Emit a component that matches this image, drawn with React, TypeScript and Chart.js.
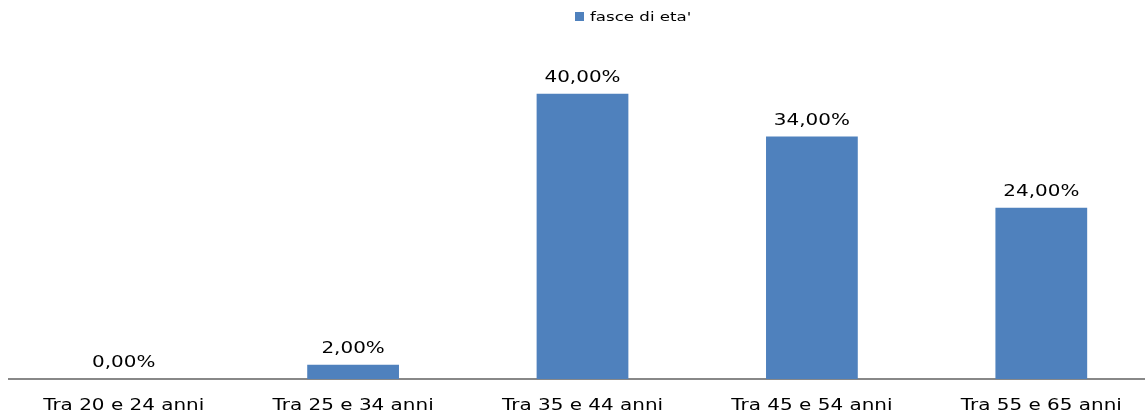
import React, { useEffect, useRef } from "react";
import { Chart, registerables } from "chart.js";

Chart.register(...registerables);

const categories = [
  "Tra 20 e 24 anni",
  "Tra 25 e 34 anni",
  "Tra 35 e 44 anni",
  "Tra 45 e 54 anni",
  "Tra 55 e 65 anni",
];
const seriesLabel = "fasce di eta'";
const values = [0, 2, 40, 34, 24];

const FONT = "'DejaVu Sans', Verdana, sans-serif";
const BAR_COLOR = "#4f81bd";
const TEXT_STRETCH = 1.33; // wide, horizontally stretched text

const formatPct = (v: number) => v.toFixed(2).replace(".", ",") + "%";

function drawWideText(
  ctx: CanvasRenderingContext2D,
  text: string,
  x: number,
  y: number,
  align: CanvasTextAlign
) {
  ctx.save();
  ctx.translate(x, y);
  ctx.scale(TEXT_STRETCH, 1);
  ctx.textAlign = align;
  ctx.textBaseline = "alphabetic";
  ctx.fillText(text, 0, 0);
  ctx.restore();
}

// Category names under the axis line
const categoryLabels = {
  id: "categoryLabels",
  afterDraw(chart: any) {
    const ctx = chart.ctx;
    const xScale = chart.scales.x;
    ctx.save();
    ctx.font = `15px ${FONT}`;
    ctx.fillStyle = "#000";
    categories.forEach((name, i) => {
      drawWideText(ctx, name, xScale.getPixelForTick(i), chart.chartArea.bottom + 31, "center");
    });
    ctx.restore();
  },
};

// Percentage labels above each bar
const valueLabels = {
  id: "valueLabels",
  afterDatasetsDraw(chart: any) {
    const ctx = chart.ctx;
    const meta = chart.getDatasetMeta(0);
    ctx.save();
    ctx.font = `15px ${FONT}`;
    ctx.fillStyle = "#000";
    meta.data.forEach((bar: any, i: number) => {
      drawWideText(ctx, formatPct(values[i]), bar.x, bar.y - 12, "center");
    });
    ctx.restore();
  },
};

// Single-series legend: colour square and series name
const seriesLegend = {
  id: "seriesLegend",
  afterDraw(chart: any) {
    const ctx = chart.ctx;
    const ds = chart.data.datasets[0];
    ctx.save();
    ctx.fillStyle = ds.backgroundColor;
    ctx.fillRect(575, 12, 9, 9);
    ctx.font = `12.5px ${FONT}`;
    ctx.fillStyle = "#000";
    drawWideText(ctx, ds.label, 590, 21, "left");
    ctx.restore();
  },
};

export default function App() {
  const ref = useRef<HTMLCanvasElement>(null);

  useEffect(() => {
    if (!ref.current) return;
    const chart = new Chart(ref.current, {
      type: "bar",
      data: {
        labels: categories,
        datasets: [
          {
            label: seriesLabel,
            data: values,
            backgroundColor: BAR_COLOR,
            barPercentage: 0.4,
            categoryPercentage: 1,
          },
        ],
      },
      options: {
        animation: false,
        responsive: true,
        maintainAspectRatio: false,
        layout: { padding: { left: 9, right: 4, top: 22.4, bottom: 33 } },
        plugins: {
          legend: { display: false },
          tooltip: { enabled: false },
        },
        scales: {
          x: {
            grid: { display: false, drawTicks: false },
            border: { display: true, color: "#888888", width: 2 },
            ticks: { display: false },
          },
          y: {
            display: false,
            min: 0,
            max: 50,
          },
        },
      },
      plugins: [valueLabels, categoryLabels, seriesLegend],
    });
    return () => chart.destroy();
  }, []);

  return (
    <div
      style={{
        position: "fixed",
        left: 0,
        top: 0,
        width: 1160,
        height: 412,
        background: "#fff",
      }}
    >
      <canvas ref={ref} />
    </div>
  );
}
